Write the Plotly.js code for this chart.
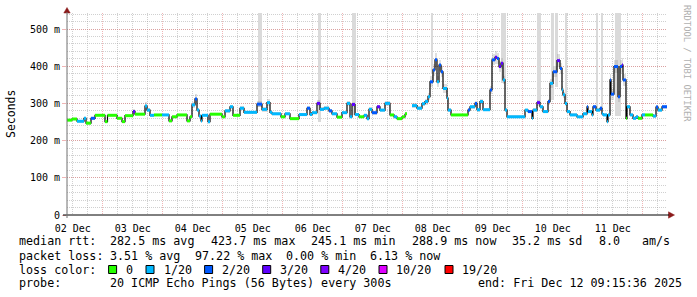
<!DOCTYPE html>
<html>
<head>
<meta charset="utf-8">
<script src="https://cdn.plot.ly/plotly-3.0.1.min.js"></script>
<style>
html,body{margin:0;padding:0;background:#fff;}
#chart{width:697px;height:297px;}
</style>
</head>
<body>
<div id="chart"></div>
<script>
// ---------- DATA ----------
// segment start, in hours after the left edge of the graph (2025-12-02 09:43)
const segHour = [0,2,4,6.8,7.6,9.6,11.2,15.2,16.2,20,22,23.2,26.4,27.2,31.2,32,33.2,34.8,38,40.8,
  42,44,48,49.2,50,51.2,52,52.8,53.6,54,56.4,57.2,62,63.2,65.2,66.4,69.2,70.8,76,78,
  80,81.2,82,85.6,87.2,89.2,92.8,96,97.2,98,100,101.2,102.8,104.8,106,108,110,112,113.2,114,
  115.2,116.8,118.8,120,120.8,122,124,125.2,127.2,129.2,130.8,132,134,135.2,136,138,140,142,143.2,144.4,
  145.2,146.4,147.2,148,148.8,149.6,150.4,152,152.4,153.6,160.4,161.2,163.2,164,165.2,166.4,169.2,170,171.2,172,
  172.8,173.6,174.4,175.2,176,183.2,184.4,186,186.4,188,189.2,190.4,192.4,193.2,194.4,196,197.2,198,198.4,199.2,
  200,201.2,204,206.4,208,208.4,210,210.4,211.6,213.2,214,214.4,216,216.4,217.2,217.6,218.8,220.4,221.2,222,
  222.4,223.6,224,225.2,226.4,227.6,228.4,230,231.2,233.2,234.4,235.6,236.4,238];
const endHour = 240;
// median rtt in ms (null = no data)
const medianRtt = [255,258,252,260,247,260,268,251,268,260,251,267,278,271,293,282,268,269,269,253,
  264,269,253,264,296,312,282,266,253,268,251,271,264,280,291,268,287,276,298,284,
  302,276,272,264,272,259,270,287,270,275,300,284,287,280,272,263,275,300,264,297,
  270,264,268,259,284,275,291,282,300,269,264,259,264,272,null,294,287,299,305,318,
  358,390,417,358,403,385,340,314,282,269,282,291,300,283,305,283,336,417,424,421,
  399,408,363,282,264,282,278,260,282,302,291,278,305,354,385,415,394,336,323,300,
  278,269,264,272,291,278,269,291,282,287,272,269,251,269,363,325,399,318,399,403,
  363,260,291,269,260,264,260,269,269,269,266,290,282,291];
// loss class: 0 -> 0, 1 -> 1/20, 2 -> 2/20, 3 -> 3/20, 4 -> 4/20, 5 -> 10/20, 6 -> 19/20
const lossClass = [0,0,1,1,0,2,0,0,0,0,0,0,3,0,1,1,1,0,1,0,
  0,0,0,0,1,2,1,1,1,1,1,0,0,1,1,0,1,1,2,1,
  1,1,1,0,1,0,1,2,1,1,3,1,1,2,1,0,1,1,1,3,
  1,0,1,1,1,2,3,1,1,0,1,0,0,0,0,1,1,1,1,1,
  2,2,2,1,2,2,1,1,1,0,2,1,2,1,1,1,2,2,3,2,
  3,3,1,1,1,1,2,1,1,3,1,1,2,1,2,3,2,1,1,1,
  1,1,1,1,2,1,1,2,1,2,1,1,1,1,2,2,2,2,2,3,
  2,0,1,1,1,1,0,1,0,0,1,2,1,2];
// ping spread (smoke) around the median, ms
const smokeSpread = [3,3,4,3,4,4,3,4,3,3,4,3,6,3,10,6,4,3,3,4,
  3,3,4,3,8,12,6,4,4,3,4,3,3,5,6,3,5,4,8,6,
  10,5,4,3,4,3,4,6,4,4,8,5,5,5,4,3,4,6,4,8,
  4,3,4,4,5,5,6,4,6,3,4,3,3,4,0,6,5,6,8,10,
  15,15,18,15,15,15,12,8,5,3,5,5,6,5,6,4,12,15,18,15,
  15,15,12,6,4,4,5,4,5,8,5,4,8,12,15,18,15,10,8,6,
  4,4,3,4,6,4,4,6,5,5,4,4,5,4,15,15,18,15,18,18,
  15,4,5,4,4,4,3,4,3,3,4,5,5,6];
// light grey full-height smoke columns (hours) and their lower edge (ms)
const columnFrom  = [76.4,100.4,114,145.6,173.6,188,193.6,195.2,199.2,211.6,213.6,219.2];
const columnTo    = [78,101.6,115.6,146.4,175.6,189.6,194.8,196.4,200,212.4,214.4,221.6];
const columnFloor = [290,250,270,380,355,300,310,345,310,285,285,265];

const lossLabels = ['0','1/20','2/20','3/20','4/20','10/20','19/20'];
const lossColors = ['#26ff00','#00b8ff','#0059ff','#5e00ff','#7e00ff','#dd00ff','#ff0000'];
const yTickVals = [0,100,200,300,400,500];
const yTickText = ['0','100 m','200 m','300 m','400 m','500 m'];
const statsRtt = ['median rtt:','282.5 ms avg','423.7 ms max','245.1 ms min','288.9 ms now','35.2 ms sd','8.0','am/s'];
const statsLoss = ['packet loss:','3.51 % avg','97.22 % max','0.00 % min','6.13 % now'];
const probeText = ['probe:','20 ICMP Echo Pings (56 Bytes) every 300s','end: Fri Dec 12 09:15:36 2025'];

// ---------- BUILD ----------
const startMs = Date.UTC(2025, 11, 2, 9, 43, 0);
const H = 3600000;
const t = h => startMs + h * H;
const Y_MAX = 543;
const MONO = 'DejaVu Sans Mono, monospace';

// pixel -> paper helpers (plot area: x 67..667, y 13..215)
const L = 67, R = 30, T = 13, B = 82, W = 697, HGT = 297;
const PW = W - L - R, PH = HGT - T - B;
const px = x => (x - L) / PW;
const py = y => (T + PH - y) / PH;

const traces = [];

// full-height grey columns
traces.push({
  type: 'bar',
  x: columnFrom.map((f, i) => t((f + columnTo[i]) / 2)),
  width: columnFrom.map((f, i) => (columnTo[i] - f) * H),
  base: columnFloor,
  y: columnFloor.map(f => Y_MAX - f),
  marker: {color: '#dadada', line: {width: 0}},
  hoverinfo: 'skip', showlegend: false
});

// smoke around the median
const smokeX = [], smokeW = [], smokeB = [], smokeY = [];
segHour.forEach((h, i) => {
  const v = medianRtt[i];
  if (v === null) return;
  const h2 = i + 1 < segHour.length ? segHour[i + 1] : endHour;
  const s = smokeSpread[i] || 3;
  smokeX.push(t((h + h2) / 2)); smokeW.push((h2 - h) * H);
  smokeB.push(v - s); smokeY.push(2 * s);
});
traces.push({
  type: 'bar', x: smokeX, width: smokeW, base: smokeB, y: smokeY,
  marker: {color: 'rgba(140,140,140,0.28)', line: {width: 0}},
  hoverinfo: 'skip', showlegend: false
});

// black median line
traces.push({
  type: 'scatter', mode: 'lines',
  x: segHour.map(t).concat([t(endHour)]),
  y: medianRtt.concat([medianRtt[medianRtt.length - 1]]),
  line: {shape: 'hv', color: '#000000', width: 1.2},
  connectgaps: false, hoverinfo: 'skip', showlegend: false
});

// coloured loss segments
lossLabels.forEach((lab, c) => {
  const xs = [], ys = [];
  segHour.forEach((h, i) => {
    if (lossClass[i] !== c || medianRtt[i] === null) return;
    const h2 = i + 1 < segHour.length ? segHour[i + 1] : endHour;
    xs.push(t(h), t(h2), null);
    ys.push(medianRtt[i], medianRtt[i], null);
  });
  if (xs.length) traces.push({
    type: 'scatter', mode: 'lines', x: xs, y: ys,
    line: {color: lossColors[c], width: 3},
    connectgaps: false, hoverinfo: 'skip', showlegend: false, name: lab
  });
});

// ---------- ANNOTATIONS / SHAPES ----------
const LEG = {family: MONO, size: 11.7, color: '#000'};
const ann = [];
function txt(x, y, s, opts) {
  ann.push(Object.assign({
    xref: 'paper', yref: 'paper', x: px(x), y: py(y), text: s.replace(/ /g, '\u00a0'),
    showarrow: false, xanchor: 'left', yanchor: 'middle', font: LEG
  }, opts || {}));
}
const rttX = [16.5, 108, 208.7, 309, 409.7, 510, 596.5, 640];
statsRtt.forEach((s, i) => txt(rttX[i], 241.5, s));
const lossX = [16.5, 108, 192.5, 283.5, 368];
statsLoss.forEach((s, i) => txt(lossX[i], 255.7, s));
txt(16.5, 269.5, 'loss color:');
const boxX = [108.6, 146, 204.6, 262.7, 320.8, 379, 445];
const labX = [124, 161.7, 220, 278, 336, 394, 460];
const shapes = [];
lossLabels.forEach((lab, i) => {
  txt(labX[i], 269.5, lab);
  shapes.push({type: 'rect', xref: 'paper', yref: 'paper',
    x0: px(boxX[i]), x1: px(boxX[i] + 8), y0: py(273.5), y1: py(265.5),
    fillcolor: lossColors[i], line: {color: '#000', width: 1}});
});
txt(16.5, 283.3, probeText[0]);
txt(108, 283.3, probeText[1]);
txt(683.5, 283.3, probeText[2], {xanchor: 'right'});

// y-axis title
ann.push({xref: 'paper', yref: 'paper', x: px(11), y: py(114), text: 'Seconds',
  textangle: -90, showarrow: false, xanchor: 'center', yanchor: 'middle',
  font: {family: MONO, size: 11.5, color: '#000'}});
// watermark
ann.push({xref: 'paper', yref: 'paper', x: px(687), y: py(63), text: 'RRDTOOL / TOBI OETIKER'.replace(/ /g, '\u00a0'),
  textangle: 90, showarrow: false, xanchor: 'center', yanchor: 'middle',
  font: {family: MONO, size: 8.8, color: '#b0b0b0'}});

// axis arrows
shapes.push({type: 'path', xref: 'paper', yref: 'paper',
  path: `M ${px(67)},${py(7.5)} L ${px(63.8)},${py(13)} L ${px(70.2)},${py(13)} Z`,
  fillcolor: '#8b1a1a', line: {color: '#8b1a1a', width: 0.5}});
shapes.push({type: 'path', xref: 'paper', yref: 'paper',
  path: `M ${px(674.5)},${py(215)} L ${px(668.5)},${py(211.8)} L ${px(668.5)},${py(218.2)} Z`,
  fillcolor: '#8b1a1a', line: {color: '#8b1a1a', width: 0.5}});
// axis lines
shapes.push({type: 'line', xref: 'paper', yref: 'paper', x0: px(63), x1: px(669), y0: py(215), y1: py(215),
  line: {color: '#000', width: 1}});
shapes.push({type: 'line', xref: 'paper', yref: 'paper', x0: px(67), x1: px(67), y0: py(218), y1: py(12),
  line: {color: '#707070', width: 1}});

const MGRID = 'rgba(225,120,120,0.55)';
const GRID = 'rgba(150,150,150,0.45)';

const layout = {
  width: W, height: HGT,
  margin: {l: L, r: R, t: T, b: B, pad: 0},
  paper_bgcolor: '#ffffff', plot_bgcolor: '#ffffff',
  barmode: 'overlay', bargap: 0,
  showlegend: false,
  xaxis: {
    type: 'date', range: [t(0), t(endHour)], fixedrange: true,
    tick0: '2025-12-02', dtick: 86400000, ticklabelmode: 'period', tickformat: '%d %b',
    ticks: 'outside', ticklen: 4, tickcolor: 'rgba(0,0,0,0)', showline: false, zeroline: false,
    showgrid: true, gridcolor: MGRID, griddash: '1px,1px', gridwidth: 1,
    minor: {tick0: '2025-12-02', dtick: 21600000, showgrid: true, gridcolor: GRID, griddash: '1px,1px', gridwidth: 1, ticks: ''},
    tickfont: {family: MONO, size: 10, color: '#000'}
  },
  yaxis: {
    range: [0, Y_MAX], fixedrange: true,
    tickmode: 'array', tickvals: yTickVals, ticktext: yTickText,
    ticks: 'outside', ticklen: 4, tickcolor: MGRID,
    showline: false, zeroline: false,
    showgrid: true, gridcolor: MGRID, griddash: '1px,1px', gridwidth: 1,
    minor: {dtick: 20, showgrid: true, gridcolor: GRID, griddash: '1px,1px', gridwidth: 1, ticks: ''},
    tickfont: {family: MONO, size: 10, color: '#000'}
  },
  annotations: ann,
  shapes: shapes
};

Plotly.newPlot('chart', traces, layout, {staticPlot: true, displayModeBar: false});
</script>
</body>
</html>
